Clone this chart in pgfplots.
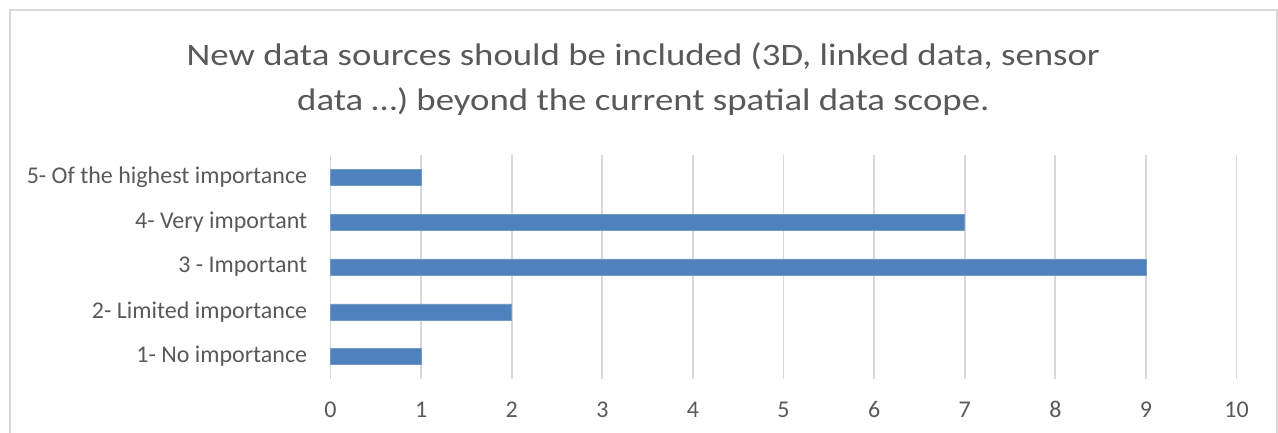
\documentclass[border=0pt]{standalone}
\usepackage{pgfplots}
\pgfplotsset{compat=1.18}
\usepackage{fontspec}
\setmainfont{Carlito}
\newfontfamily\titlefont{Carlito}[FakeStretch=1.18]
\definecolor{barblue}{HTML}{4F81BD}
\definecolor{txtgray}{HTML}{595959}
\definecolor{gridgray}{HTML}{D9D9D9}
\begin{document}
\begin{tikzpicture}
\useasboundingbox (0pt,0pt) rectangle (958.5pt,324pt);
\draw[gridgray, line width=1.2pt] (7.5pt,-15pt) -- (7.5pt,316.5pt) -- (957.75pt,316.5pt) -- (957.75pt,-15pt);
\node[text=txtgray, font=\titlefont\fontsize{23.4}{34}\selectfont, align=center, anchor=base] at (482.5pt,240.75pt) {New data sources should be included (3D, linked data, sensor\\data \dots) beyond the current spatial data scope.};
\begin{axis}[
  at={(247.9pt,39.75pt)}, anchor=south west,
  scale only axis,
  width=679.5pt, height=168pt,
  xmin=0, xmax=10, ymin=0.5, ymax=5.5,
  xbar, bar width=12pt,
  axis line style={draw=none},
  xtick={0,1,...,10},
  ytick={1,2,3,4,5},
  yticklabels={1- No importance, 2- Limited importance, 3 - Important, 4- Very important, 5- Of the highest importance},
  xmajorgrids, major grid style={gridgray, line width=1.4pt},
  major tick length=0pt,
  tick label style={text=txtgray, font=\fontsize{18}{22}\selectfont},
  /pgf/number format/assume math mode=true,
  xticklabel style={anchor=base, yshift=-29.25pt},
  yticklabel style={xshift=-14pt},
  clip=false,
]
\addplot[fill=barblue, draw=barblue!80!white, line width=0.4pt] coordinates {(1,1) (2,2) (9,3) (7,4) (1,5)};
\end{axis}
\end{tikzpicture}
\end{document}
